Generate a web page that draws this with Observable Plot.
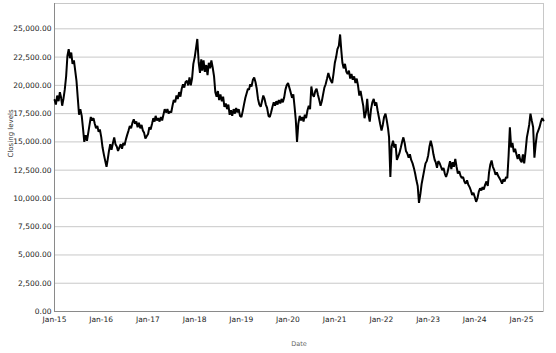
<!DOCTYPE html>
<html><head><meta charset="utf-8">
<script src="https://cdn.jsdelivr.net/npm/d3@7"></script>
<script src="https://cdn.jsdelivr.net/npm/@observablehq/plot@0.6"></script>
<style>html,body{margin:0;padding:0;background:#fff}</style>
</head><body><div id="chart"></div>
<script>
// Closing levels, three readings per month (around the 2nd, 12th and 22nd)
const closes = [
 // 2015
 18700,18300,19100, 18600,19400,18900, 18200,18800,19600, 20800,22600,23200,
 22400,22900,21900, 22200,21300,20400, 18900,17400,17900, 17300,16200,15000,
 15600,15100,15800, 16500,17200,16900, 17100,16600,16200, 16400,15900,16100,
 // 2016
 15400,14500,13900, 13300,12800,13500, 14200,14800,14300, 14900,15400,14800,
 14600,14200,14500, 14800,14400,14900, 14700,15200,15600, 16000,16400,16200,
 16700,17000,16600, 16800,16300,16700, 16200,16500,16000, 15800,15300,15500,
 // 2017
 15700,16300,16100, 16600,17100,16800, 17300,16900,17100, 16800,17200,16900,
 17400,17900,17600, 17900,17500,17700, 17600,18200,18700, 18500,19100,18800,
 19400,19000,19700, 20100,19800,20300, 20400,20000,20700, 20000,20600,21900,
 // 2018
 22500,23300,24100, 22000,21100,22300, 21300,22200,21200, 21800,20900,22000,
 21500,22200,21600, 20800,19400,19000, 19500,18700,19200, 18600,19000,18100,
 18400,17900,18300, 17400,17800,17300, 17900,17500,18000, 17600,17900,17300,
 // 2019
 17200,17700,18300, 18900,19300,19700, 19600,20100,19900, 20500,20700,20300,
 19700,18800,18300, 18100,18600,19100, 18800,18300,18000, 17300,17200,17600,
 18100,18500,18200, 18600,18300,18700, 18400,18800,18500, 18900,19600,20000,
 // 2020
 20200,19800,19400, 18900,19200,18100, 17000,15000,16600, 17300,16900,17200,
 16800,17400,17100, 17800,18200,17900, 19900,19200,19000, 19500,19700,19200,
 18700,18200,18600, 19200,19800,20100, 20600,21100,20700, 20400,20200,21000,
 // 2021
 22000,22500,23200, 23500,24500,23000, 22000,21500,21900, 21200,21000,21300,
 20600,21000,20500, 20800,20200,20600, 20000,19100,19500, 18800,18200,17100,
 17600,18800,17400, 16800,17900,18500, 18800,18200,18500, 17800,17200,16600,
 // 2022
 16000,16500,17200, 17500,16900,16200, 15400,11900,14600, 15100,14500,14800,
 13400,13700,14000, 14500,15000,15400, 14900,14200,14000, 13600,13900,13400,
 13100,12700,12200, 11600,11100,9600, 10400,11300,11900, 12500,13100,13300,
 // 2023
 13800,14600,15100, 14600,13900,13400, 13200,12700,13300, 13100,12800,12500,
 12700,12200,11900, 12300,12800,13300, 12600,13200,12800, 13500,12800,12200,
 12400,12000,11800, 11900,11500,11300, 11600,11200,11000, 10700,10300,10500,
 // 2024
 10100,9700,10000, 10600,10900,10700, 11000,10800,11200, 11500,11100,12300,
 13000,13350,12800, 12500,12100,12300, 12000,11800,11600, 11300,11700,11500,
 11900,11800,13800, 16300,14500,14900, 14100,14400,13900, 13500,13900,13400,
 // 2025
 13200,13900,13100, 14200,15400,16000, 16500,17500,16900, 16300,13600,14800,
 15700,16000,16300, 16800,17100,16900
];
const readingDays = [2, 12, 22];
const yTicks = [0, 2500, 5000, 7500, 10000, 12500, 15000, 17500, 20000, 22500, 25000];
const tickYears = [2015, 2016, 2017, 2018, 2019, 2020, 2021, 2022, 2023, 2024, 2025];
const yLabel = "Closing levels";
const xLabel = "Date";

const data = closes.map((v, i) => {
  const m = Math.floor(i / 3);
  return {date: new Date(Date.UTC(2015 + Math.floor(m / 12), m % 12, readingDays[i % 3])), close: v};
});
const xStart = new Date(Date.UTC(2015, 0, 1));
const xEnd = new Date(Date.UTC(2025, 5, 22));
const xTicks = tickYears.map(y => new Date(Date.UTC(y, 0, 1)));

const chart = Plot.plot({
  width: 556, height: 353,
  marginTop: 3, marginRight: 13, marginBottom: 42, marginLeft: 54,
  style: {fontFamily: "'DejaVu Sans', Verdana, sans-serif", fontSize: "7.5px", color: "#222", background: "#fff", overflow: "visible"},
  x: {type: "utc", domain: [xStart, xEnd], ticks: xTicks, tickFormat: d3.utcFormat("%b-%y"), tickSize: 0, tickPadding: 5, label: null},
  y: {domain: [0, 27240], ticks: yTicks, tickFormat: d3.format(",.2f"), tickSize: 0, tickPadding: 3, label: null},
  marks: [
    Plot.ruleY(yTicks.filter(d => d > 0), {stroke: "#c8c8c8", strokeWidth: 1}),
    Plot.frame({stroke: "#c8c8c8"}),
    Plot.ruleX([xStart], {stroke: "#8a8a8a"}),
    Plot.ruleY([0], {stroke: "#8a8a8a"}),
    Plot.lineY(data, {x: "date", y: "close", stroke: "#000", strokeWidth: 2, strokeLinejoin: "miter"}),
    Plot.text([yLabel], {frameAnchor: "left", dx: -44, rotate: -90, fontSize: 7, fill: "#333"}),
    Plot.text([xLabel], {frameAnchor: "bottom", dy: 34, fontSize: 6.5, fill: "#666"})
  ]
});
document.getElementById("chart").appendChild(chart);
</script>
</body></html>
